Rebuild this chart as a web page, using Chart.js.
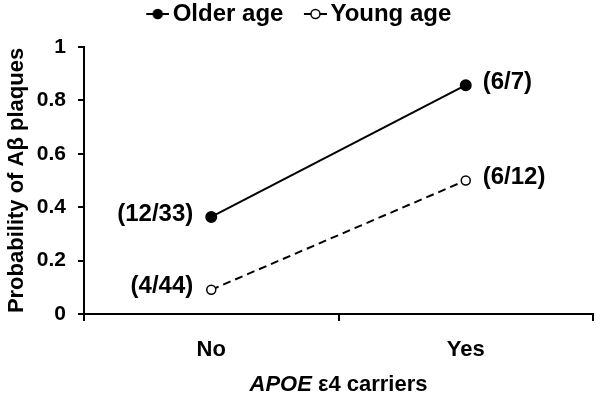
<!DOCTYPE html>
<html><head><meta charset="utf-8">
<script src="https://cdn.jsdelivr.net/npm/chart.js@4/dist/chart.umd.min.js"></script>
<style>html,body{margin:0;padding:0;background:#fff}#wrap{width:602px;height:402px}</style>
</head><body><div id="wrap"><canvas id="c" width="602" height="402"></canvas></div>
<script>
const categories = ["No", "Yes"];
const olderValues = [12/33, 6/7];
const youngValues = [4/44, 6/12];
const olderLabels = ["(12/33)", "(6/7)"];
const youngLabels = ["(4/44)", "(6/12)"];
const yTicks = [0, 0.2, 0.4, 0.6, 0.8, 1];
const xTitleItalic = "APOE";
const xTitleRest = " ε4 carriers";

const FONT = "'Liberation Sans', Arial, sans-serif";

// legend icon: line with marker, drawn at the right part of the image
function legendIcon(filled) {
  const cv = document.createElement('canvas');
  cv.width = 52; cv.height = 14;
  const g = cv.getContext('2d');
  g.strokeStyle = '#000'; g.lineWidth = 2;
  g.beginPath(); g.moveTo(29, 7); g.lineTo(52, 7); g.stroke();
  g.beginPath(); g.arc(40.5, 7, 4.5, 0, Math.PI * 2);
  g.fillStyle = filled ? '#000' : '#fff'; g.fill();
  g.lineWidth = 1.5; g.stroke();
  return cv;
}

const legendShift = {
  id: 'legendShift',
  afterLayout(chart) {
    if (chart.legend) { chart.legend.left -= 8; chart.legend.right -= 8; }
  }
};

const labelPlugin = {
  id: 'pointLabels',
  afterDatasetsDraw(chart) {
    const ctx = chart.ctx;
    ctx.save();
    ctx.font = "bold 24px " + FONT;
    ctx.fillStyle = '#000';
    ctx.textBaseline = 'middle';
    const sets = [olderLabels, youngLabels];
    sets.forEach((labels, di) => {
      const meta = chart.getDatasetMeta(di);
      meta.data.forEach((pt, i) => {
        if (i === 0) { ctx.textAlign = 'right'; ctx.fillText(labels[i], pt.x - 18, pt.y - 3); }
        else { ctx.textAlign = 'left'; ctx.fillText(labels[i], pt.x + 17, pt.y - 3); }
      });
    });
    const xs = chart.scales.x;
    const cx = (xs.left + xs.right) / 2;
    ctx.font = "italic bold 22px " + FONT;
    const w1 = ctx.measureText(xTitleItalic).width;
    ctx.font = "bold 22px " + FONT;
    const w2 = ctx.measureText(xTitleRest).width;
    const start = cx - (w1 + w2) / 2;
    const ty = 385;
    ctx.textAlign = 'left';
    ctx.font = "italic bold 22px " + FONT;
    ctx.fillText(xTitleItalic, start, ty);
    ctx.font = "bold 22px " + FONT;
    ctx.fillText(xTitleRest, start + w1, ty);
    ctx.restore();
  }
};

new Chart(document.getElementById('c'), {
  type: 'line',
  data: {
    labels: categories,
    datasets: [
      { label: 'Older age', data: olderValues, borderColor: '#000', backgroundColor: '#000',
        borderWidth: 2, pointRadius: 5, pointBackgroundColor: '#000', pointBorderColor: '#000',
        pointStyle: 'circle' },
      { label: 'Young age', data: youngValues, borderColor: '#000', backgroundColor: '#fff',
        borderWidth: 2, borderDash: [8, 5], pointRadius: 4.5, pointBackgroundColor: '#fff',
        pointBorderColor: '#000', pointBorderWidth: 1.5, pointStyle: 'circle' }
    ]
  },
  options: {
    responsive: false,
    animation: false,
    devicePixelRatio: 1,
    layout: { padding: { left: 0, right: 9, top: 2, bottom: 0 } },
    plugins: {
      tooltip: { enabled: false },
      subtitle: { display: true, text: '', position: 'top', weight: 500,
        font: { size: 1, lineHeight: 1 }, padding: { top: 10, bottom: 0 } },
      legend: {
        position: 'top',
        labels: {
          usePointStyle: true,
          pointStyleWidth: 35,
          color: '#000',
          font: { family: FONT, size: 24, weight: 'bold' },
          padding: 0,
          generateLabels(chart) {
            return chart.data.datasets.map((ds, i) => ({
              text: ds.label, pointStyle: legendIcon(i === 0), datasetIndex: i,
              fontColor: '#000', lineWidth: 0, strokeStyle: 'rgba(0,0,0,0)', fillStyle: 'rgba(0,0,0,0)'
            }));
          }
        }
      }
    },
    scales: {
      x: {
        type: 'category',
        offset: true,
        grid: { offset: true, drawOnChartArea: false, color: '#000', lineWidth: 2, tickLength: 7 },
        border: { color: '#000', width: 2 },
        ticks: { color: '#000', font: { family: FONT, size: 22, weight: 'bold' }, padding: 16 },
        afterFit(s) { s.height = 88; }
      },
      y: {
        min: 0, max: 1,
        afterBuildTicks(s) { s.ticks = yTicks.map(v => ({ value: v })); },
        grid: { drawOnChartArea: false, color: '#000', lineWidth: 2, tickLength: 6 },
        border: { color: '#000', width: 2 },
        ticks: { color: '#000', font: { family: FONT, size: 21, weight: 'bold' }, padding: 12,
          callback: v => String(v) },
        title: { display: true, text: 'Probability of Aβ plaques', color: '#000',
          font: { family: FONT, size: 22, weight: 'bold' }, padding: { top: 4, bottom: 0 } },
        afterFit(s) { s.width = 84; }
      }
    }
  },
  plugins: [labelPlugin, legendShift]
});
</script></body></html>
